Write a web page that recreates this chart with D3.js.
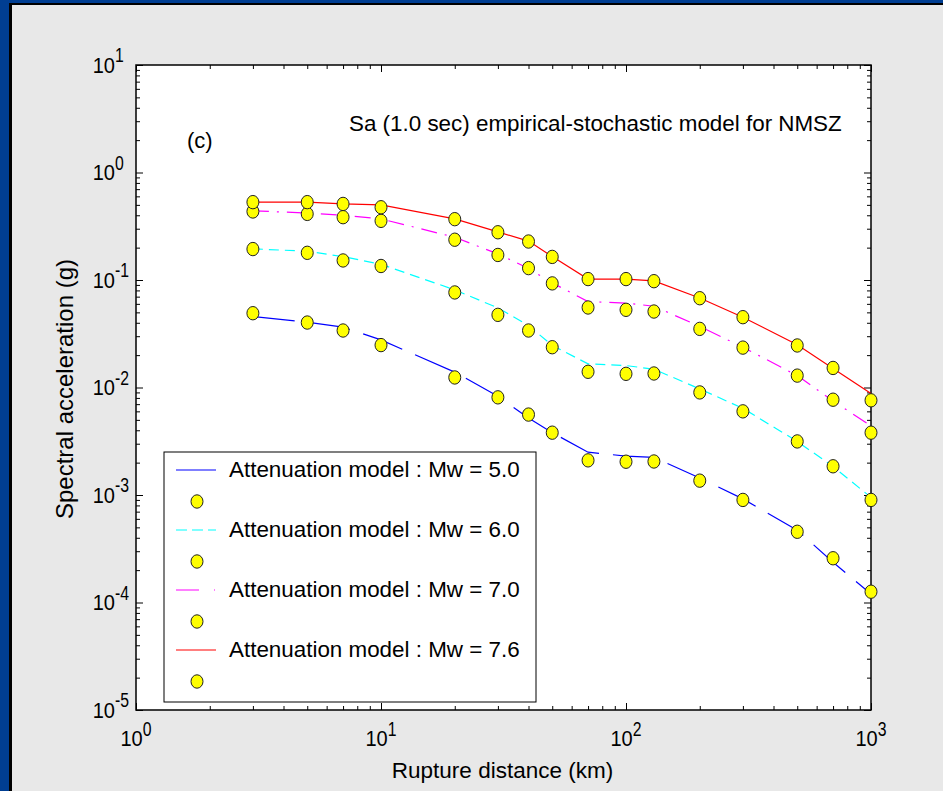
<!DOCTYPE html>
<html>
<head>
<meta charset="utf-8">
<script src="https://cdn.jsdelivr.net/npm/d3@7"></script>
<style>
  html, body { margin: 0; padding: 0; background: #e8e8e8; }
  svg { display: block; }
  text { font-family: "Liberation Sans", Arial, sans-serif; fill: #000; }
</style>
</head>
<body>
<svg id="chart" width="943" height="791"></svg>
<script>
// Rupture distances (km) at which the spectral accelerations are evaluated
const distances = [3, 5, 7, 10, 20, 30, 40, 50, 70, 100, 130, 200, 300, 500, 700, 1000];

// Attenuation model curves, Sa(1.0 s) in g
const model50 = [0.0457, 0.0405, 0.0364, 0.0277, 0.0139, 0.0083, 0.0052, 0.0038, 0.0025, 0.0023, 0.00224, 0.00144, 0.00092, 0.00047, 0.000237, 0.00012];
const model60 = [0.195, 0.185, 0.165, 0.14, 0.081, 0.055, 0.0377, 0.0246, 0.0166, 0.016, 0.0148, 0.0097, 0.0064, 0.00315, 0.00184, 0.00095];
const model70 = [0.44, 0.42, 0.40, 0.37, 0.25, 0.175, 0.128, 0.094, 0.063, 0.061, 0.057, 0.037, 0.0237, 0.0129, 0.0075, 0.0044];
const model76 = [0.53, 0.53, 0.51, 0.50, 0.37, 0.28, 0.23, 0.165, 0.102, 0.102, 0.098, 0.068, 0.045, 0.025, 0.015, 0.0088];

// Stochastic simulation values, Sa(1.0 s) in g
const sim50 = [0.0491, 0.0402, 0.0339, 0.0248, 0.0124, 0.0081, 0.0056, 0.0038, 0.0021, 0.00204, 0.00205, 0.00136, 0.0009, 0.000455, 0.000258, 0.000126];
const sim60 = [0.194, 0.179, 0.152, 0.135, 0.0766, 0.0474, 0.0339, 0.0237, 0.014, 0.0134, 0.0135, 0.009, 0.006, 0.00315, 0.00185, 0.0009];
const sim70 = [0.434, 0.412, 0.384, 0.355, 0.237, 0.171, 0.129, 0.093, 0.0555, 0.0528, 0.0509, 0.0351, 0.0235, 0.0129, 0.0077, 0.0038];
const sim76 = [0.53, 0.53, 0.51, 0.475, 0.368, 0.278, 0.228, 0.164, 0.102, 0.102, 0.0975, 0.0677, 0.0451, 0.0246, 0.0152, 0.0076];

const magnitudes = ["5.0", "6.0", "7.0", "7.6"];
const legendLabels = magnitudes.map(m => "Attenuation model : Mw = " + m);

const xTickPowers = [0, 1, 2, 3];
const yTickPowers = [1, 0, -1, -2, -3, -4, -5];

const titleText = "Sa (1.0 sec) empirical-stochastic model for NMSZ";
const panelText = "(c)";
const xAxisTitle = "Rupture distance (km)";
const yAxisTitle = "Spectral acceleration (g)";

// ---- styling per magnitude ----
const seriesStyle = [
  { color: "#0000ff", dash: "42,14", legendDash: null },
  { color: "#00ffff", dash: "10,6", legendDash: "11,5" },
  { color: "#ff00ff", dash: "16,8,2,8", legendDash: "23,15,1,15" },
  { color: "#ff0000", dash: null, legendDash: null }
];
const models = [model50, model60, model70, model76];
const sims = [sim50, sim60, sim70, sim76];

const W = 943, H = 791;
const plot = { left: 136, right: 871, top: 65, bottom: 710 };

const svg = d3.select("#chart");

// figure background with slide frame
svg.append("rect").attr("x", 0).attr("y", 0).attr("width", W).attr("height", H).attr("fill", "#e8e8e8");
svg.append("rect").attr("x", 0).attr("y", 0).attr("width", W).attr("height", 3).attr("fill", "#003e92");
svg.append("rect").attr("x", 0).attr("y", 0).attr("width", 9).attr("height", H).attr("fill", "#003e92");
svg.append("rect").attr("x", 9).attr("y", 3).attr("width", W - 9).attr("height", 2).attr("fill", "#000");
svg.append("rect").attr("x", 9).attr("y", 3).attr("width", 3).attr("height", H - 3).attr("fill", "#000");

// axes area
svg.append("rect")
  .attr("x", plot.left).attr("y", plot.top)
  .attr("width", plot.right - plot.left).attr("height", plot.bottom - plot.top)
  .attr("fill", "#fff");

const x = d3.scaleLog().domain([1, 1000]).range([plot.left, plot.right]);
const y = d3.scaleLog().domain([1e-5, 10]).range([plot.bottom, plot.top]);

// ---- ticks (inward, on all four sides) ----
const isPow10 = v => Math.abs(Math.log10(v) - Math.round(Math.log10(v))) < 1e-9;
const minorX = x.ticks().filter(v => !isPow10(v));
const majorX = xTickPowers.map(p => Math.pow(10, p));
const minorY = y.ticks().filter(v => !isPow10(v));
const majorY = yTickPowers.map(p => Math.pow(10, p));

function styleAxis(g) {
  g.selectAll(".domain").remove();
  g.selectAll(".tick line").attr("stroke", "#000").attr("stroke-width", 1);
  g.selectAll(".tick text").remove();
}

const minorLen = 4, majorLen = 7;
[[d3.axisBottom, plot.bottom], [d3.axisTop, plot.top]].forEach(([ax, pos]) => {
  svg.append("g").attr("transform", `translate(0,${pos})`)
    .call(ax(x).tickValues(minorX).tickSizeInner(-minorLen).tickSizeOuter(0).tickFormat(""))
    .call(styleAxis);
  svg.append("g").attr("transform", `translate(0,${pos})`)
    .call(ax(x).tickValues(majorX).tickSizeInner(-majorLen).tickSizeOuter(0).tickFormat(""))
    .call(styleAxis);
});
[[d3.axisLeft, plot.left], [d3.axisRight, plot.right]].forEach(([ax, pos]) => {
  svg.append("g").attr("transform", `translate(${pos},0)`)
    .call(ax(y).tickValues(minorY).tickSizeInner(-minorLen).tickSizeOuter(0).tickFormat(""))
    .call(styleAxis);
  svg.append("g").attr("transform", `translate(${pos},0)`)
    .call(ax(y).tickValues(majorY).tickSizeInner(-majorLen).tickSizeOuter(0).tickFormat(""))
    .call(styleAxis);
});

// axes box
svg.append("rect")
  .attr("x", plot.left).attr("y", plot.top)
  .attr("width", plot.right - plot.left).attr("height", plot.bottom - plot.top)
  .attr("fill", "none").attr("stroke", "#000").attr("stroke-width", 1.5);

// ---- tick labels as 10^n, with a tall narrow exponent ----
function powerLabel(baseX, baseY, exp) {
  const g = svg.append("g");
  const base = g.append("text").attr("font-size", 22)
    .attr("transform", `translate(${baseX},${baseY}) scale(0.91,1)`).text("10");
  const bw = base.node().getComputedTextLength() * 0.91;
  const e = g.append("text").attr("font-size", 20.5)
    .attr("transform", `translate(${baseX + bw},${baseY - 10.5}) scale(0.77,1)`).text(exp);
  const ew = e.node().getComputedTextLength() * 0.77;
  return { g, bw, ew };
}
xTickPowers.forEach(p => {
  const lbl = powerLabel(0, plot.bottom + 36, String(p));
  const shift = x(Math.pow(10, p)) - (lbl.bw + lbl.ew) / 2;
  lbl.g.attr("transform", `translate(${shift},0)`);
});
yTickPowers.forEach(p => {
  const lbl = powerLabel(0, y(Math.pow(10, p)) + 7.5, String(p));
  lbl.g.attr("transform", `translate(${115 - lbl.bw},0)`);
});

// ---- axis titles, panel title ----
svg.append("text").attr("x", (plot.left + plot.right) / 2 - 1).attr("y", 778)
  .attr("text-anchor", "middle").attr("font-size", 22.5).text(xAxisTitle);
svg.append("text")
  .attr("transform", `translate(73,389) rotate(-90)`)
  .attr("text-anchor", "middle").attr("font-size", 24).text(yAxisTitle);
svg.append("text").attr("x", 349).attr("y", 131).attr("font-size", 22.4).text(titleText);
svg.append("text").attr("x", 187).attr("y", 148).attr("font-size", 22).text(panelText);

// ---- model curves ----
const line = d3.line().x(d => x(d[0])).y(d => y(d[1]));
models.forEach((vals, i) => {
  svg.append("path")
    .datum(distances.map((d, j) => [d, vals[j]]))
    .attr("d", line)
    .attr("fill", "none")
    .attr("stroke", seriesStyle[i].color)
    .attr("stroke-width", 1.2)
    .attr("stroke-dasharray", seriesStyle[i].dash);
});

// ---- simulated points ----
sims.forEach(vals => {
  svg.append("g").selectAll("ellipse")
    .data(distances.map((d, j) => [d, vals[j]]))
    .join("ellipse")
    .attr("cx", d => x(d[0])).attr("cy", d => y(d[1]))
    .attr("rx", 6).attr("ry", 6.7)
    .attr("fill", "#ffff00").attr("stroke", "#222").attr("stroke-width", 1);
});

// ---- legend ----
const lg = svg.append("g");
lg.append("rect").attr("x", 164).attr("y", 452).attr("width", 372).attr("height", 250)
  .attr("fill", "#fff").attr("stroke", "#000").attr("stroke-width", 1);
legendLabels.forEach((label, i) => {
  const ly = 470 + 60 * i;
  lg.append("line").attr("x1", 176).attr("x2", 216).attr("y1", ly).attr("y2", ly)
    .attr("stroke", seriesStyle[i].color).attr("stroke-width", 1.2)
    .attr("stroke-dasharray", seriesStyle[i].legendDash);
  lg.append("text").attr("x", 229).attr("y", ly + 7).attr("font-size", 22.4).text(label);
  lg.append("ellipse").attr("cx", 197).attr("cy", ly + 31.5).attr("rx", 6).attr("ry", 6.7)
    .attr("fill", "#ffff00").attr("stroke", "#222").attr("stroke-width", 1);
});
</script>
</body>
</html>
